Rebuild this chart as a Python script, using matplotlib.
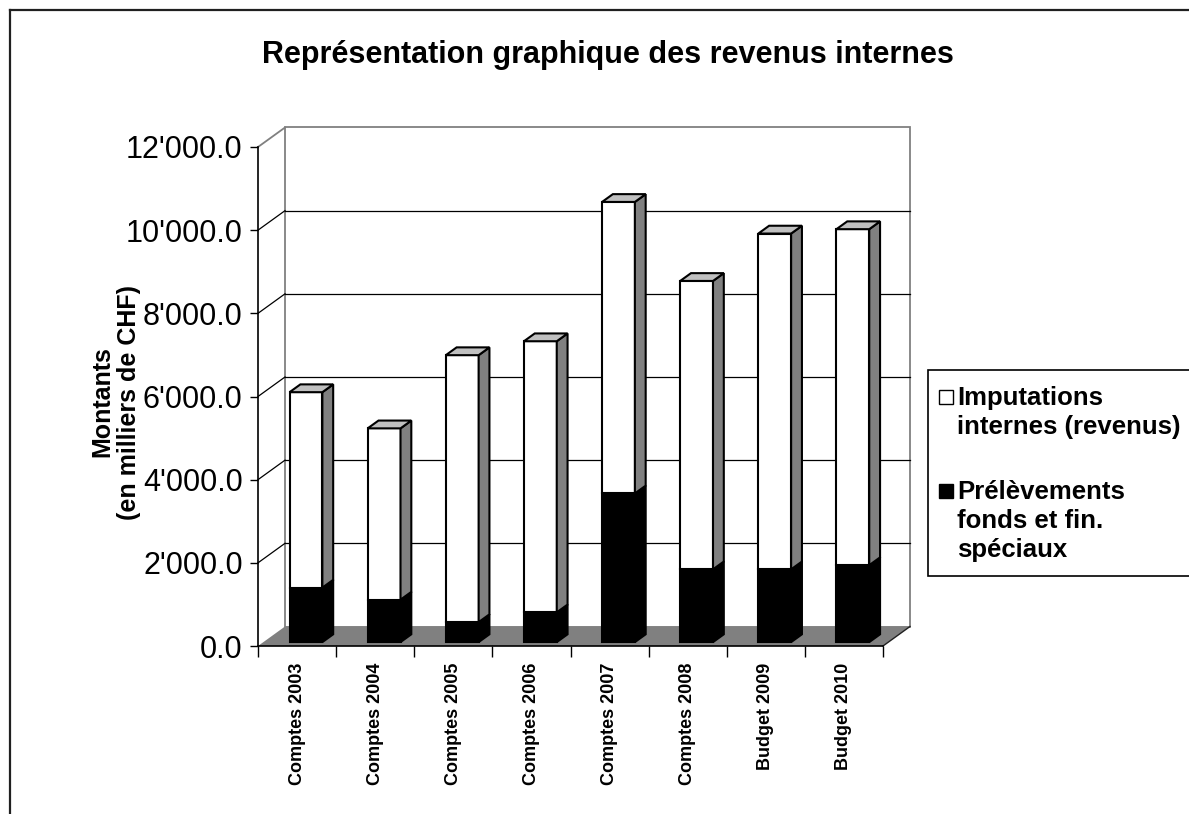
import matplotlib
matplotlib.use("Agg")
import matplotlib.pyplot as plt
import matplotlib.ticker as mticker
from matplotlib.patches import Polygon, Rectangle
from matplotlib.lines import Line2D

plt.rcParams['font.family'] = ['Liberation Sans', 'DejaVu Sans']

# ---- data (milliers de CHF) ----
categories = ["Comptes 2003", "Comptes 2004", "Comptes 2005", "Comptes 2006",
              "Comptes 2007", "Comptes 2008", "Budget 2009", "Budget 2010"]
prelevements = [1310, 1020, 480, 715, 3575, 1750, 1750, 1850]
imputations = [4700, 4120, 6420, 6520, 7010, 6935, 8075, 8080]
series_labels = [["Imputations", "internes (revenus)"],
                 ["Prélèvements", "fonds et fin.", "spéciaux"]]
title = "Représentation graphique des revenus internes"
ylabel = "Montants\n(en milliers de CHF)"
y_ticks = [0, 2000, 4000, 6000, 8000, 10000, 12000]

# ---- figure / pixel helpers ----
W, H = 1189, 814
fig = plt.figure(figsize=(W / 100, H / 100), dpi=100)
fig.patch.set_facecolor("white")


def fx(px):
    return px / W


def fy(py):
    return 1 - py / H


# front plane of the 3-D box
AX_L, AX_R, AX_T, AX_B = 258, 883, 147, 646
ax = fig.add_axes([fx(AX_L), fy(AX_B), (AX_R - AX_L) / W, (AX_B - AX_T) / H])
n = len(categories)
ymax = y_ticks[-1]
ax.set_xlim(0, n)
ax.set_ylim(0, ymax)
ax.patch.set_visible(False)

# depth of the box expressed in data units
DEPTH_PX_X, DEPTH_PX_Y = 27, 19.5
DX = DEPTH_PX_X * n / (AX_R - AX_L)
DY = DEPTH_PX_Y * ymax / (AX_B - AX_T)


def proj(x, y, z):
    return (x + z * DX, y + z * DY)


def poly(points, fc, ec="none", lw=0, z=1):
    p = Polygon([proj(*pt) for pt in points], closed=True, facecolor=fc,
                edgecolor=ec, linewidth=lw, zorder=z, clip_on=False,
                joinstyle="miter")
    ax.add_patch(p)


def seg(p0, p1, color, lw, z):
    a, b = proj(*p0), proj(*p1)
    ax.add_line(Line2D([a[0], b[0]], [a[1], b[1]], color=color, lw=lw,
                       zorder=z, clip_on=False))


# walls
poly([(0, 0, 0), (0, 0, 1), (0, ymax, 1), (0, ymax, 0)], "white", z=0.5)
poly([(0, 0, 1), (n, 0, 1), (n, ymax, 1), (0, ymax, 1)], "white",
     ec="#808080", lw=1.3, z=0.6)
for v in y_ticks[1:-1]:
    seg((0, v, 1), (n, v, 1), "black", 0.9, 0.8)
    seg((0, v, 0), (0, v, 1), "black", 0.9, 0.8)
seg((0, ymax, 0), (0, ymax, 1), "#808080", 1.3, 0.8)

# floor
poly([(0, 0, 0), (n, 0, 0), (n, 0, 1), (0, 0, 1)], "#808080", z=1)
seg((n, 0, 0), (n, 0, 1), "#202020", 1.0, 1.1)

# stacked bars
BAR_L, BAR_W = 0.335, 0.42
Z0, Z1 = 0.2, 0.6
EDGE = 1.5


def block(x0, y0, y1, front, side, top, zo):
    x1 = x0 + BAR_W
    poly([(x0, y0, Z0), (x1, y0, Z0), (x1, y1, Z0), (x0, y1, Z0)], front,
         "black", EDGE, zo)
    poly([(x1, y0, Z0), (x1, y0, Z1), (x1, y1, Z1), (x1, y1, Z0)], side,
         "black", EDGE, zo)
    if top is not None:
        poly([(x0, y1, Z0), (x1, y1, Z0), (x1, y1, Z1), (x0, y1, Z1)], top,
             "black", EDGE, zo)


for i in range(n):
    x0 = i + BAR_L
    b = prelevements[i]
    t = b + imputations[i]
    block(x0, 0, b, "black", "black", None, 2 + i * 0.01)
    block(x0, b, t, "white", "#808080", "#C0C0C0", 2 + i * 0.01)

# axes, ticks and labels
for s in ("top", "right"):
    ax.spines[s].set_visible(False)
for s in ("left", "bottom"):
    ax.spines[s].set_color("black")
    ax.spines[s].set_linewidth(1.2)
    ax.spines[s].set_zorder(5)

ax.set_yticks(y_ticks)
ax.yaxis.set_major_formatter(
    mticker.FuncFormatter(lambda v, _: f"{v:,.1f}".replace(",", "'")))
ax.tick_params(axis="y", direction="out", length=6, width=1, labelsize=22,
               pad=5, color="black")

ax.set_xticks(range(n + 1))
ax.set_xticklabels([])
ax.set_xticks([i + 0.5 for i in range(n)], minor=True)
ax.set_xticklabels(categories, minor=True, rotation=90, fontsize=13,
                   fontweight="bold", va="top", ha="center")
ax.tick_params(axis="x", which="major", direction="out", length=8, width=1)
ax.tick_params(axis="x", which="minor", length=0, pad=12)

fig.text(fx(608), fy(55), title, ha="center", va="center", fontsize=22,
         fontweight="bold")
fig.text(fx(116), fy(402), ylabel, ha="center", va="center", rotation=90,
         fontsize=18, fontweight="bold", multialignment="center",
         linespacing=1.15)

# legend
fig.patches.append(Rectangle((fx(928), fy(576)), fx(1200) - fx(928),
                             fy(370) - fy(576), transform=fig.transFigure,
                             facecolor="white", edgecolor="black", lw=1.2,
                             zorder=3))
legend_colors = ["white", "black"]
line_baselines = [[405, 434], [499, 528, 557]]
for color, lines, bases in zip(legend_colors, series_labels, line_baselines):
    sq = 14
    fig.patches.append(Rectangle((fx(939), fy(bases[0] - 1)), sq / W, sq / H,
                                 transform=fig.transFigure, facecolor=color,
                                 edgecolor="black", lw=1.0, zorder=4))
    for txt, base in zip(lines, bases):
        fig.text(fx(957), fy(base), txt, ha="left", va="baseline",
                 fontsize=18.5, fontweight="bold", zorder=5)

# outer chart border
fig.add_artist(Line2D([fx(10), fx(10)], [fy(10), fy(H + 5)],
                      transform=fig.transFigure, color="#202020", lw=1.6))
fig.add_artist(Line2D([fx(10), fx(W + 5)], [fy(10), fy(10)],
                      transform=fig.transFigure, color="#202020", lw=1.6))

fig.savefig("out.png", dpi=100)
